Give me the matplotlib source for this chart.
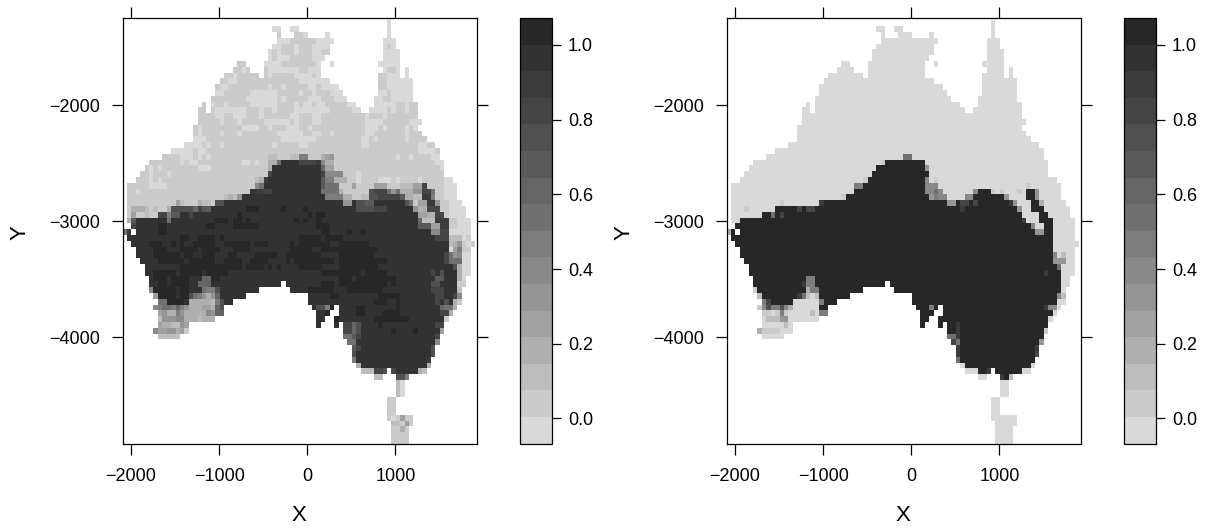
import numpy as np
import matplotlib
matplotlib.use('Agg')
import matplotlib.pyplot as plt
from matplotlib.colors import ListedColormap, BoundaryNorm

plt.rcParams['font.family'] = ['Liberation Sans', 'DejaVu Sans']

# classes of the colour key, light to dark
key_colors = ['#d9d9d9', '#cbcbcb', '#bdbdbd', '#afafaf', '#a1a1a1', '#959595', '#898989', '#7d7d7d',
              '#717171', '#656565', '#5a5a5a', '#505050', '#454545', '#3b3b3b', '#323232', '#272727']
key_bounds = np.linspace(-0.067, 1.072, 17)
key_ticks = [0.0, 0.2, 0.4, 0.6, 0.8, 1.0]
x_ticks = [-2000, -1000, 0, 1000]
y_ticks = [-2000, -3000, -4000]

# grid cells: 50 x 50 units
cell = 50
x_first = -2095
y_first = -1270
n_rows = 73
n_cols = 80

# land cells per row (first column, last column)
land = [
    [(59, 59)], [(33, 34), (37, 38), (59, 59)], [(34, 34), (38, 40), (45, 45), (59, 59)],
    [(34, 46), (58, 60)], [(33, 45), (58, 60)], [(32, 45), (58, 61)], [(32, 44), (58, 61)],
    [(25, 26), (31, 43), (46, 46), (57, 61)], [(24, 27), (31, 43), (58, 61), (63, 63)],
    [(22, 29), (31, 43), (57, 61), (63, 63)], [(21, 45), (57, 64)], [(20, 47), (57, 64)],
    [(20, 48), (57, 64)], [(19, 49), (56, 64)], [(17, 17), (19, 51), (56, 65)],
    [(16, 17), (19, 52), (55, 65)], [(16, 65)], [(16, 66)], [(15, 65)], [(15, 66)], [(15, 67)],
    [(13, 69)], [(10, 70)], [(8, 70)], [(5, 71)], [(4, 71)], [(3, 71)], [(2, 73)], [(0, 74)],
    [(0, 74)], [(0, 74)], [(0, 75)], [(0, 76)], [(0, 76)], [(0, 77)], [(1, 77)],
    [(-1, 0), (2, 77)], [(0, 77)], [(1, 78)], [(2, 77)], [(2, 77)], [(3, 77)], [(4, 77)],
    [(4, 77)], [(5, 76)], [(5, 34), (36, 76)], [(5, 29), (37, 75)], [(6, 26), (41, 75)],
    [(7, 23), (41, 75)], [(6, 21), (42, 46), (48, 74)], [(7, 21), (43, 45), (48, 73)],
    [(7, 19), (43, 44), (47, 72)], [(7, 13), (43, 43), (47, 47), (49, 71)], [(6, 13), (49, 71)],
    [(7, 11), (49, 70)], [(50, 70)], [(51, 69)], [(51, 69)], [(51, 68)], [(52, 68)],
    [(53, 58), (60, 67)], [(56, 57), (61, 63)], [(61, 62)], [(61, 62)], [(61, 62)],
    [(59, 60)], [(59, 60)], [(59, 60)], [(59, 64)], [(60, 64)], [(60, 63)], [(60, 63)], [(60, 63)],
]

# high class per row, starts at row 24
high_row0 = 24
high = [
    [(35, 43)], [(33, 43)], [(32, 44)], [(31, 43)], [(30, 43)], [(28, 43), (56, 58), (67, 68)],
    [(26, 44), (55, 61), (67, 68)], [(21, 48), (51, 51), (54, 54), (56, 62), (68, 69)],
    [(10, 64), (68, 70)], [(7, 65), (70, 71)], [(2, 65), (70, 72)], [(1, 67), (71, 72)],
    [(0, 0), (2, 68), (71, 72)], [(0, 72)], [(1, 72)], [(2, 72)], [(2, 72)], [(3, 72)], [(4, 73)],
    [(4, 74)], [(5, 74)], [(5, 34), (36, 74)], [(6, 16), (20, 29), (37, 74)],
    [(7, 14), (20, 26), (41, 73)], [(9, 13), (21, 23), (41, 73)], [(20, 21), (42, 46), (48, 70)],
    [(43, 45), (48, 72)], [(43, 44), (47, 71)], [(43, 43), (47, 47), (49, 71)], [(49, 70)],
    [(51, 70)], [(52, 69)], [(52, 69)], [(52, 68)], [(52, 68)], [(53, 67)], [(56, 58), (60, 65)],
    [(61, 62)],
]

# cells of the right map that differ: row, first, last, class
right_cells = [
    (23, 39, 40, 8), (24, 34, 34, 1), (25, 44, 44, 5), (27, 30, 30, 1), (27, 44, 44, 6), (27, 46, 46, 1),
    (28, 28, 29, 7), (28, 44, 46, 6), (28, 67, 67, 1), (29, 44, 45, 6), (29, 46, 46, 8), (29, 47, 47, 6),
    (29, 55, 55, 6), (29, 59, 59, 1), (29, 61, 61, 1), (29, 65, 65, 1), (29, 69, 69, 5), (30, 25, 25, 1),
    (30, 45, 45, 5), (30, 46, 46, 7), (30, 47, 48, 6), (30, 53, 54, 6), (30, 62, 62, 5), (30, 69, 69, 5),
    (31, 11, 11, 1), (31, 20, 20, 13), (31, 49, 50, 5), (31, 52, 53, 12), (31, 55, 55, 12), (31, 63, 63, 13),
    (31, 64, 64, 5), (31, 70, 70, 3), (32, 3, 3, 1), (32, 15, 15, 12), (32, 17, 18, 12), (32, 52, 52, 13),
    (32, 65, 65, 5), (33, 9, 9, 8), (33, 11, 11, 12), (34, 66, 66, 13), (35, 68, 68, 6), (36, -1, -1, 3),
    (36, 69, 70, 5), (40, 73, 73, 6), (40, 75, 75, 2), (41, 73, 75, 5), (42, 74, 74, 8), (43, 71, 71, 13),
    (44, 17, 18, 7), (45, 16, 16, 13), (45, 17, 18, 7), (46, 5, 5, 1), (46, 17, 17, 3), (46, 18, 19, 7),
    (47, 6, 6, 2), (47, 15, 15, 13), (47, 16, 16, 8), (47, 17, 17, 2), (47, 19, 19, 2), (47, 74, 74, 6),
    (47, 75, 75, 2), (48, 7, 7, 7), (48, 8, 8, 12), (48, 20, 20, 7), (49, 6, 6, 1), (49, 7, 7, 6),
    (49, 8, 8, 11), (49, 9, 10, 7), (49, 11, 11, 11), (49, 12, 12, 6), (49, 13, 13, 3), (49, 45, 45, 7),
    (49, 71, 71, 13), (49, 72, 73, 6), (50, 7, 8, 1), (50, 10, 10, 1), (50, 11, 11, 7), (50, 12, 12, 1),
    (50, 18, 18, 2), (50, 20, 21, 7), (51, 8, 10, 2), (51, 11, 12, 5), (52, 12, 12, 2), (52, 51, 51, 13),
    (53, 6, 6, 3), (53, 7, 10, 1), (53, 51, 51, 13), (53, 71, 71, 1), (54, 49, 50, 8), (54, 51, 51, 13),
    (55, 50, 50, 12), (55, 51, 51, 8), (55, 70, 70, 5), (56, 51, 51, 13), (56, 69, 69, 13), (57, 51, 51, 13),
    (57, 69, 69, 12), (58, 51, 51, 8), (60, 58, 58, 13), (61, 61, 61, 13), (61, 63, 63, 2),
]

# left map: lighter cells inside the low class, row by row
left_light = {
    0: [(59, 59)], 1: [(33, 34), (37, 38), (59, 59)], 2: [(40, 40), (45, 45), (59, 59)],
    3: [(34, 36), (43, 46), (58, 60)], 4: [(33, 34), (38, 38), (42, 45), (58, 58), (60, 60)],
    5: [(32, 32), (34, 34), (38, 38), (42, 43), (58, 61)], 6: [(32, 32), (34, 36), (42, 44), (58, 61)],
    7: [(31, 34), (43, 43), (46, 46), (57, 61)], 8: [(26, 26), (32, 35), (36, 38), (41, 43), (58, 58), (61, 61), (63, 63)],
    9: [(24, 24), (32, 32), (38, 38), (39, 41), (43, 43), (59, 61), (63, 63)],
    10: [(23, 24), (39, 42), (43, 45), (59, 64)], 11: [(21, 22), (32, 32), (35, 35), (41, 42), (44, 47), (59, 64)],
    12: [(20, 21), (28, 33), (39, 39), (42, 42), (46, 48), (57, 58), (60, 64)], 13: [(27, 33), (35, 35), (41, 43), (47, 49), (56, 57), (60, 64)],
    14: [(19, 19), (22, 22), (28, 33), (38, 38), (40, 41), (43, 44), (50, 51), (56, 60), (63, 63)],
    15: [(20, 26), (30, 30), (33, 33), (38, 43), (44, 45), (51, 52), (55, 58), (60, 60), (63, 63)],
    16: [(20, 21), (24, 26), (30, 30), (37, 38), (42, 43), (54, 54), (58, 58)],
    17: [(21, 21), (25, 25), (31, 36), (38, 38), (42, 43), (54, 57), (64, 66)],
    18: [(16, 16), (26, 29), (32, 32), (36, 38), (41, 41), (54, 56), (58, 58), (63, 63), (65, 65)],
    19: [(16, 16), (21, 21), (25, 25), (34, 39), (42, 43), (46, 46), (54, 55), (63, 63)],
    20: [(15, 17), (35, 42), (53, 54), (56, 56), (63, 63)],
    21: [(13, 16), (18, 18), (21, 21), (33, 33), (39, 40), (53, 54), (66, 67)],
    22: [(10, 14), (16, 17), (66, 69)], 23: [(12, 14), (16, 16), (18, 18), (61, 61), (64, 64), (69, 70)],
    24: [(12, 12), (14, 15), (26, 27), (29, 29), (70, 71)], 25: [(5, 5), (7, 7), (16, 18), (71, 71)],
    26: [(5, 5), (9, 9), (52, 52)], 27: [(5, 5), (7, 7), (52, 52), (57, 59), (61, 61), (66, 66), (72, 73)],
    28: [(5, 8), (72, 74)], 29: [(2, 2), (72, 74)], 30: [(72, 74)], 31: [(73, 75)], 32: [(73, 76)], 33: [(73, 76)],
    34: [(75, 77)], 35: [(75, 77)], 36: [(73, 77)], 37: [(74, 76)], 38: [(73, 73), (77, 77)], 39: [(73, 73)],
    40: [(76, 77)], 41: [(76, 77)], 42: [(75, 77)], 43: [(76, 77)], 44: [(76, 76)],
    62: [(62, 62)], 63: [(62, 62)], 64: [(62, 62)], 68: [(60, 60)],
}

# left map: darker cells inside the high class, row by row
left_dark = {
    32: [(27, 29), (35, 35), (40, 40)], 33: [(25, 25), (41, 41), (43, 44)],
    34: [(20, 22), (24, 25), (27, 27), (38, 38), (40, 40), (43, 43)],
    35: [(7, 8), (18, 19), (24, 29), (43, 45)], 36: [(7, 8), (44, 45), (50, 50), (53, 53)],
    37: [(12, 13), (16, 19), (21, 21), (39, 43), (45, 48)],
    38: [(5, 7), (10, 10), (12, 12), (15, 19), (22, 27), (29, 31), (37, 37), (39, 43), (44, 45), (48, 54)],
    39: [(6, 8), (12, 15), (17, 20), (24, 27), (37, 41), (44, 47), (48, 56)],
    40: [(6, 11), (13, 14), (17, 19), (23, 24), (29, 33), (36, 43), (48, 55)],
    41: [(7, 12), (14, 19), (22, 25), (28, 31), (36, 36), (38, 46), (48, 54), (55, 58)],
    42: [(12, 25), (27, 30), (32, 32), (34, 34), (39, 43), (48, 56)],
    43: [(6, 10), (12, 16), (18, 22), (44, 52), (54, 58)],
    44: [(6, 8), (10, 13), (19, 20), (48, 50), (52, 60)], 45: [(7, 8), (10, 13), (44, 46), (48, 58), (60, 60)],
    46: [(6, 10), (12, 13), (41, 46), (50, 57)], 47: [(7, 10), (12, 13), (46, 47), (57, 60), (61, 61)],
    48: [(9, 12), (56, 58), (61, 61)], 49: [(46, 47), (52, 53), (61, 61)], 50: [(45, 46), (52, 53), (58, 61)],
    51: [(47, 47), (56, 57), (58, 62), (63, 63)], 52: [(57, 57)], 53: [(60, 60), (65, 65)],
}

# left map: cells in between the two classes
left_cells = [
    (23, 32, 33, 2), (23, 37, 38, 2), (23, 39, 40, 7), (23, 44, 44, 3), (23, 45, 45, 4), (23, 46, 46, 5),
    (24, 32, 33, 3), (24, 34, 34, 8), (24, 39, 42, 12), (24, 43, 43, 13), (24, 44, 44, 6), (24, 45, 46, 3),
    (25, 32, 32, 3), (25, 44, 44, 9), (25, 45, 46, 4), (26, 32, 32, 12), (26, 44, 44, 12), (26, 45, 48, 6),
    (27, 29, 29, 2), (27, 30, 30, 3), (27, 31, 31, 13), (27, 44, 44, 10), (27, 45, 46, 7), (27, 47, 49, 3),
    (28, 29, 29, 6), (28, 30, 30, 8), (28, 44, 44, 10), (28, 45, 47, 8), (28, 51, 51, 4), (28, 56, 58, 4),
    (28, 62, 65, 2), (28, 65, 66, 4), (28, 67, 67, 12), (29, 29, 30, 13), (29, 31, 32, 12), (29, 44, 47, 8),
    (29, 48, 48, 3), (29, 55, 55, 11), (29, 56, 58, 12), (29, 59, 59, 8), (29, 60, 60, 5), (29, 61, 61, 8),
    (29, 62, 64, 3), (29, 65, 66, 5), (29, 67, 68, 12), (29, 69, 69, 8), (30, 22, 22, 2), (30, 23, 23, 3),
    (30, 24, 24, 2), (30, 25, 25, 5), (30, 45, 48, 7), (30, 49, 50, 3), (30, 53, 54, 2), (30, 55, 56, 11),
    (30, 57, 61, 12), (30, 62, 62, 10), (30, 63, 64, 3), (30, 65, 66, 2), (30, 67, 68, 13), (30, 69, 69, 7),
    (31, 11, 11, 4), (31, 12, 12, 2), (31, 16, 16, 3), (31, 17, 18, 2), (31, 20, 21, 11), (31, 49, 50, 5),
    (31, 52, 53, 11), (31, 54, 55, 10), (31, 63, 63, 11), (31, 64, 64, 8), (31, 66, 67, 4), (31, 68, 69, 13),
    (31, 70, 70, 5), (32, 1, 3, 3), (32, 4, 4, 2), (32, 6, 6, 2), (32, 9, 9, 3), (32, 10, 15, 11),
    (32, 15, 15, 9), (32, 16, 16, 12), (32, 17, 18, 10), (32, 52, 55, 11), (32, 56, 58, 12), (32, 65, 65, 5),
    (32, 66, 67, 3), (32, 68, 70, 12), (33, 1, 1, 4), (33, 2, 2, 1), (33, 4, 4, 2), (33, 7, 8, 12),
    (33, 9, 9, 7), (33, 10, 11, 10), (33, 14, 14, 12), (33, 66, 67, 4), (33, 68, 69, 3), (33, 70, 71, 12),
    (34, 0, 0, 3), (34, 1, 1, 10), (34, 9, 9, 8), (34, 66, 66, 9), (34, 67, 69, 2), (34, 70, 72, 13),
    (35, 1, 1, 12), (35, 66, 68, 10), (35, 69, 70, 4), (35, 71, 72, 13), (36, -1, -1, 8), (36, 0, 0, 13),
    (36, 69, 70, 6), (36, 71, 72, 12), (37, 70, 72, 12), (37, 73, 75, 2), (38, 73, 73, 2), (38, 74, 74, 3),
    (38, 75, 75, 5), (39, 74, 74, 4), (39, 75, 75, 7), (40, 72, 72, 12), (40, 73, 73, 8), (40, 74, 74, 5),
    (40, 75, 75, 6), (41, 72, 72, 12), (41, 73, 75, 8), (42, 74, 74, 11), (42, 75, 75, 3), (43, 69, 69, 12),
    (43, 71, 71, 11), (43, 75, 75, 3), (44, 17, 18, 9), (44, 70, 71, 10), (44, 75, 75, 3), (45, 16, 18, 9),
    (45, 69, 70, 11), (46, 5, 5, 6), (46, 17, 17, 8), (46, 18, 19, 7), (46, 20, 20, 11), (46, 69, 71, 12),
    (46, 75, 75, 2), (47, 6, 6, 4), (47, 14, 14, 11), (47, 15, 15, 8), (47, 16, 16, 7), (47, 17, 17, 5),
    (47, 18, 18, 3), (47, 19, 19, 5), (47, 20, 20, 9), (47, 70, 71, 12), (47, 74, 74, 12), (47, 75, 75, 6),
    (48, 7, 8, 8), (48, 14, 18, 3), (48, 19, 19, 2), (48, 20, 20, 7), (48, 21, 21, 11), (48, 70, 70, 12),
    (48, 72, 72, 11), (48, 74, 74, 3), (49, 6, 6, 6), (49, 7, 7, 7), (49, 8, 10, 8), (49, 10, 10, 7),
    (49, 11, 11, 9), (49, 12, 12, 7), (49, 13, 13, 5), (49, 14, 16, 3), (49, 17, 18, 4), (49, 19, 19, 3),
    (49, 20, 20, 9), (49, 21, 21, 11), (49, 43, 44, 11), (49, 45, 45, 7), (49, 71, 71, 9), (49, 72, 73, 8),
    (49, 74, 74, 3), (50, 7, 7, 4), (50, 8, 8, 5), (50, 9, 10, 3), (50, 11, 11, 7), (50, 12, 12, 5),
    (50, 13, 17, 3), (50, 18, 18, 6), (50, 19, 19, 5), (50, 20, 21, 9), (50, 71, 72, 12), (50, 73, 73, 3),
    (51, 7, 7, 2), (51, 8, 10, 5), (51, 11, 12, 6), (51, 13, 15, 3), (51, 16, 16, 2), (51, 17, 19, 3),
    (51, 72, 72, 1), (52, 7, 7, 4), (52, 8, 9, 3), (52, 10, 11, 2), (52, 12, 12, 5), (52, 13, 13, 4),
    (52, 49, 50, 12), (52, 51, 51, 9), (52, 52, 52, 11), (52, 70, 71, 12), (53, 6, 6, 6), (53, 7, 8, 4),
    (53, 9, 10, 5), (53, 11, 11, 3), (53, 12, 12, 4), (53, 13, 13, 1), (53, 49, 50, 12), (53, 51, 51, 9),
    (53, 52, 52, 11), (53, 71, 71, 4), (54, 7, 11, 2), (54, 49, 50, 8), (54, 51, 51, 10), (54, 52, 52, 12),
    (54, 70, 70, 12), (55, 50, 51, 8), (55, 70, 70, 6), (56, 51, 51, 10), (56, 52, 52, 12), (56, 69, 69, 11),
    (57, 51, 51, 11), (57, 69, 69, 11), (58, 51, 51, 7), (58, 68, 68, 13), (59, 52, 52, 3), (59, 68, 68, 3),
    (60, 53, 55, 2), (60, 56, 57, 12), (60, 58, 58, 11), (60, 60, 60, 12), (60, 66, 66, 3), (60, 67, 67, 2),
    (61, 56, 57, 2), (61, 61, 62, 11), (61, 63, 63, 7), (62, 61, 61, 2), (63, 61, 61, 2), (64, 61, 61, 2),
    (68, 62, 62, 4), (69, 60, 61, 2), (69, 63, 63, 4), (70, 62, 62, 3),
]


def build_grid(low, top):
    # land gets the low class, then the high class goes on top
    grid = np.full((n_rows, n_cols), -1)
    for r, spans in enumerate(land):
        for a, b in spans:
            grid[r, a + 1:b + 2] = low
    for k, spans in enumerate(high):
        for a, b in spans:
            grid[high_row0 + k, a + 1:b + 2] = top
    return grid


def put(grid, r, a, b, level):
    part = grid[r, a + 1:b + 2]
    part[part >= 0] = level


right_grid = build_grid(0, 15)
for r, a, b, level in right_cells:
    put(right_grid, r, a, b, level)

left_grid = build_grid(1, 14)
for r, spans in left_light.items():
    for a, b in spans:
        put(left_grid, r, a, b, 0)
for r, spans in left_dark.items():
    for a, b in spans:
        put(left_grid, r, a, b, 15)
for r, a, b, level in left_cells:
    put(left_grid, r, a, b, level)

key_mid = (key_bounds[:-1] + key_bounds[1:]) / 2
cmap = ListedColormap(key_colors)
norm = BoundaryNorm(key_bounds, cmap.N)
x_edges = x_first + cell * np.arange(n_cols + 1)
y_edges = y_first - cell * np.arange(n_rows + 1)

W, H = 1211, 528
fig = plt.figure(figsize=(W / 100, H / 100), dpi=100)


def draw_panel(grid, x0):
    ax = fig.add_axes([x0 / W, 1 - 444 / H, 353.5 / W, 426 / H])
    vals = np.ma.masked_where(grid < 0, key_mid[np.clip(grid, 0, 15)])
    mesh = ax.pcolormesh(x_edges, y_edges, vals, cmap=cmap, norm=norm, linewidth=0, antialiased=False)
    ax.set_xlim(-2091, 1921)
    ax.set_ylim(-4922, -1250)
    ax.set_xticks(x_ticks)
    ax.set_xticklabels([str(v).replace('-', '\u2212') for v in x_ticks])
    ax.set_yticks(y_ticks)
    ax.set_yticklabels([str(v).replace('-', '\u2212') for v in y_ticks])
    ax.tick_params(top=True, right=True, length=8.2, width=0.9, labelsize=13)
    ax.tick_params(axis='x', pad=9)
    ax.tick_params(axis='y', pad=8)
    for s in ax.spines.values():
        s.set_linewidth(0.9)
    ax.text(0.498, -0.168, 'X', transform=ax.transAxes, fontsize=16, ha='center', va='center')
    ax.text(-0.29, 0.497, 'Y', transform=ax.transAxes, fontsize=16, ha='center', va='center', rotation=90)

    cax = fig.add_axes([(x0 + 396.5) / W, 1 - 443.5 / H, 32.5 / W, 425.5 / H])
    cb = fig.colorbar(mesh, cax=cax, boundaries=key_bounds, spacing='proportional', ticks=key_ticks)
    cb.ax.set_yticklabels(['%.1f' % v for v in key_ticks])
    cb.ax.minorticks_off()
    cb.ax.tick_params(length=6.5, width=0.9, labelsize=13, pad=5)
    cb.outline.set_linewidth(0.9)
    cb.dividers.set_visible(False)


draw_panel(left_grid, 123)
draw_panel(right_grid, 727)

fig.savefig('out.png', dpi=100)
